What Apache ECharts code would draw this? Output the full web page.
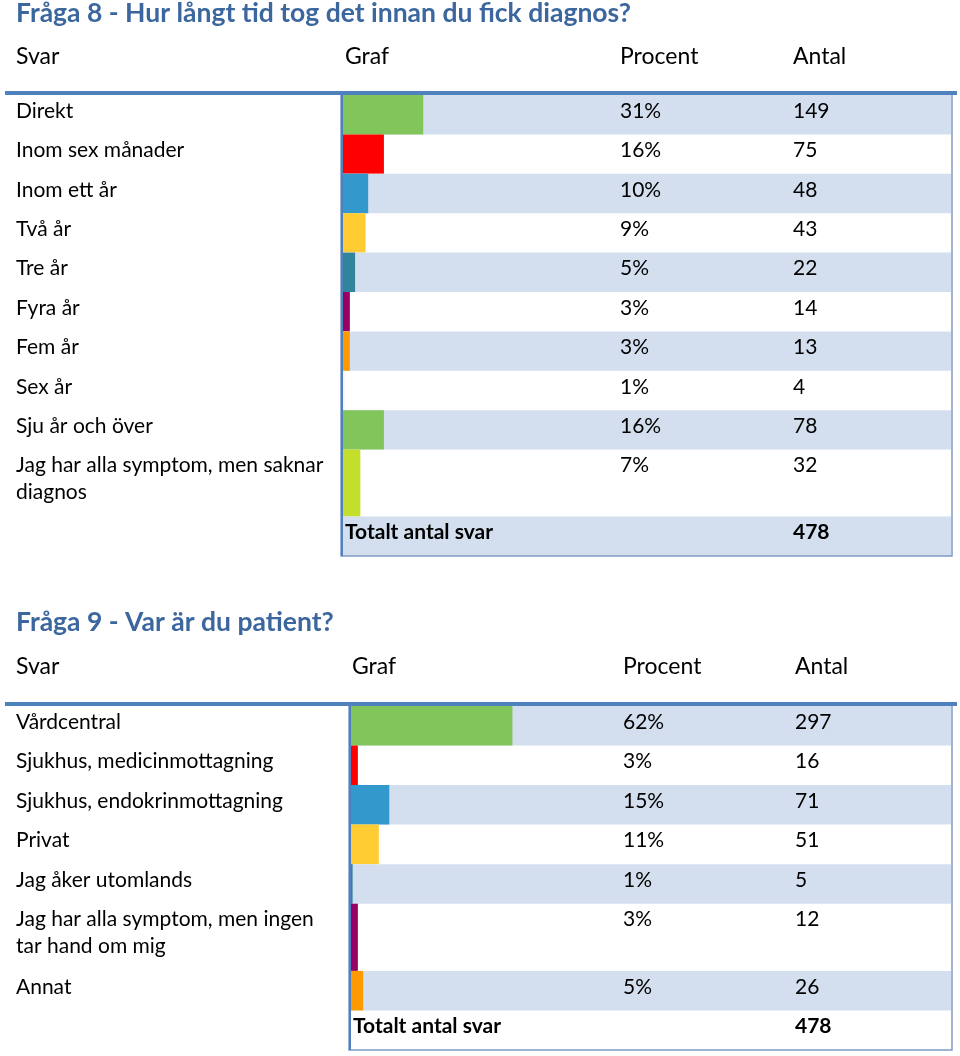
<!DOCTYPE html>
<html><head><meta charset="utf-8">
<script src="https://cdn.jsdelivr.net/npm/echarts@6/dist/echarts.min.js"></script>
<style>html,body{margin:0;padding:0;background:#fff}#c{width:960px;height:1056px}</style>
</head><body><div id="c"></div>
<script>
// ---- data ----
const q8Title = 'Fråga 8 - Hur långt tid tog det innan du fick diagnos?';
const q8Answers = ['Direkt', 'Inom sex månader', 'Inom ett år', 'Två år', 'Tre år', 'Fyra år', 'Fem år', 'Sex år', 'Sju år och över', 'Jag har alla symptom, men saknar\ndiagnos'];
const q8Percent = [31, 16, 10, 9, 5, 3, 3, 1, 16, 7];
const q8Counts = [149, 75, 48, 43, 22, 14, 13, 4, 78, 32];
const q8Total = 478;

const q9Title = 'Fråga 9 - Var är du patient?';
const q9Answers = ['Vårdcentral', 'Sjukhus, medicinmottagning', 'Sjukhus, endokrinmottagning', 'Privat', 'Jag åker utomlands', 'Jag har alla symptom, men ingen\ntar hand om mig', 'Annat'];
const q9Percent = [62, 3, 15, 11, 1, 3, 5];
const q9Counts = [297, 16, 71, 51, 5, 12, 26];
const q9Total = 478;

const headers = ['Svar', 'Graf', 'Procent', 'Antal'];
const totalLabel = 'Totalt antal svar';

// ---- styles ----
const q8Colors = ['#82c55b', '#ff0000', '#3399cc', '#ffcc33', '#31849b', '#990066', '#ff9900', '#f4f4f4', '#82c55b', '#c4de2e'];
const q9Colors = ['#82c55b', '#ff0000', '#3399cc', '#ffcc33', '#31849b', '#990066', '#ff9900'];
const FONT = 'Lato';
const BODY = 21, HEAD = 23, TITLE = 26.5;
const ROW_BG = '#d3dfee';
const TITLE_COLOR = '#3b679e';
const LINE_COLOR = '#4f81bd';

function rowLayout(answers) {
  const units = answers.map(a => 1 + (a.split('\n').length - 1) * 0.7);
  units.push(1);
  const starts = []; let acc = 0;
  units.forEach(u => { starts.push(acc); acc += u; });
  return { units, starts, total: acc };
}

function txt(x, y, s, bold, size) {
  return {
    type: 'text', x: x, y: y,
    style: {
      text: s, fill: '#000', verticalAlign: 'top', align: 'left', lineHeight: 27,
      font: (bold ? 'bold ' : '') + (size || BODY) + 'px ' + FONT
    }
  };
}

function makeSeries(gi, answers, percents, counts, total, colors, cols) {
  const rows = rowLayout(answers);
  const data = answers.map((a, i) => [percents[i], i]);
  data.push([0, answers.length]);
  return {
    type: 'custom', xAxisIndex: gi, yAxisIndex: gi, clip: false, silent: true,
    data: data,
    renderItem: function (params, api) {
      const i = api.value(1);
      const pct = api.value(0);
      const p0 = api.coord([0, rows.starts[i]]);
      const p1 = api.coord([pct, rows.starts[i] + rows.units[i]]);
      const left = p0[0], top = p0[1], bottom = p1[1];
      const right = api.getWidth() - 9;
      const cy = top + 16 - 13.5;
      const ch = [];
      if (i % 2 === 0) ch.push({ type: 'rect', shape: { x: left, y: top, width: right - left, height: bottom - top }, style: { fill: ROW_BG } });
      if (i < answers.length) {
        ch.push({ type: 'rect', shape: { x: left, y: top, width: p1[0] - left, height: bottom - top }, style: { fill: colors[i] } });
        ch.push(txt(16, cy, answers[i]));
        ch.push(txt(cols.pct, cy, percents[i] + '%'));
        ch.push(txt(cols.count, cy, String(counts[i])));
      } else {
        ch.push(txt(left + 3, cy, totalLabel, true));
        ch.push(txt(cols.count, cy, String(total), true));
      }
      return { type: 'group', children: ch };
    }
  };
}

const L8 = rowLayout(q8Answers), L9 = rowLayout(q9Answers);

function headerGraphics(y, title, titleY, cols) {
  const g = [];
  g.push({ type: 'text', x: 16, y: titleY, style: { text: title, fill: TITLE_COLOR, font: 'bold ' + TITLE + 'px ' + FONT, verticalAlign: 'middle' } });
  const xs = [16, cols.graf, cols.pct, cols.count];
  headers.forEach((h, k) => g.push({ type: 'text', x: xs[k], y: y, style: { text: h, fill: '#000', font: HEAD + 'px ' + FONT, verticalAlign: 'middle' } }));
  return g;
}

const cols8 = { graf: 345, pct: 620, count: 793 };
const cols9 = { graf: 352, pct: 623, count: 795 };

const chart = echarts.init(document.getElementById('c'), null, { renderer: 'canvas' });
chart.setOption({
  backgroundColor: '#fff',
  animation: false,
  grid: [
    { left: 342, top: 95, width: 262, height: 461 },
    { left: 350, top: 706, width: 262, height: 344 }
  ],
  xAxis: [
    { gridIndex: 0, type: 'value', min: 0, max: 100, show: false },
    { gridIndex: 1, type: 'value', min: 0, max: 100, show: false }
  ],
  yAxis: [
    { gridIndex: 0, type: 'value', min: 0, max: L8.total, inverse: true, show: false },
    { gridIndex: 1, type: 'value', min: 0, max: L9.total, inverse: true, show: false }
  ],
  series: [
    makeSeries(0, q8Answers, q8Percent, q8Counts, q8Total, q8Colors, cols8),
    makeSeries(1, q9Answers, q9Percent, q9Counts, q9Total, q9Colors, cols9)
  ],
  graphic: [].concat(
    headerGraphics(57, q8Title, 13, cols8),
    headerGraphics(667, q9Title, 622, cols9),
    [
      { type: 'rect', z: 10, shape: { x: 341, y: 94, width: 611, height: 462 }, style: { fill: null, stroke: '#7d9cc9', lineWidth: 1.5 } },
      { type: 'rect', z: 10, shape: { x: 349, y: 705, width: 603, height: 345 }, style: { fill: null, stroke: '#7d9cc9', lineWidth: 1.5 } },
      { type: 'rect', z: 11, shape: { x: 341, y: 95, width: 2, height: 461 }, style: { fill: LINE_COLOR } },
      { type: 'rect', z: 11, shape: { x: 349, y: 706, width: 2, height: 344 }, style: { fill: LINE_COLOR } },
      { type: 'rect', z: 12, shape: { x: 5, y: 91, width: 952, height: 4 }, style: { fill: LINE_COLOR } },
      { type: 'rect', z: 12, shape: { x: 5, y: 702, width: 952, height: 4 }, style: { fill: LINE_COLOR } }
    ]
  )
});
</script></body></html>
